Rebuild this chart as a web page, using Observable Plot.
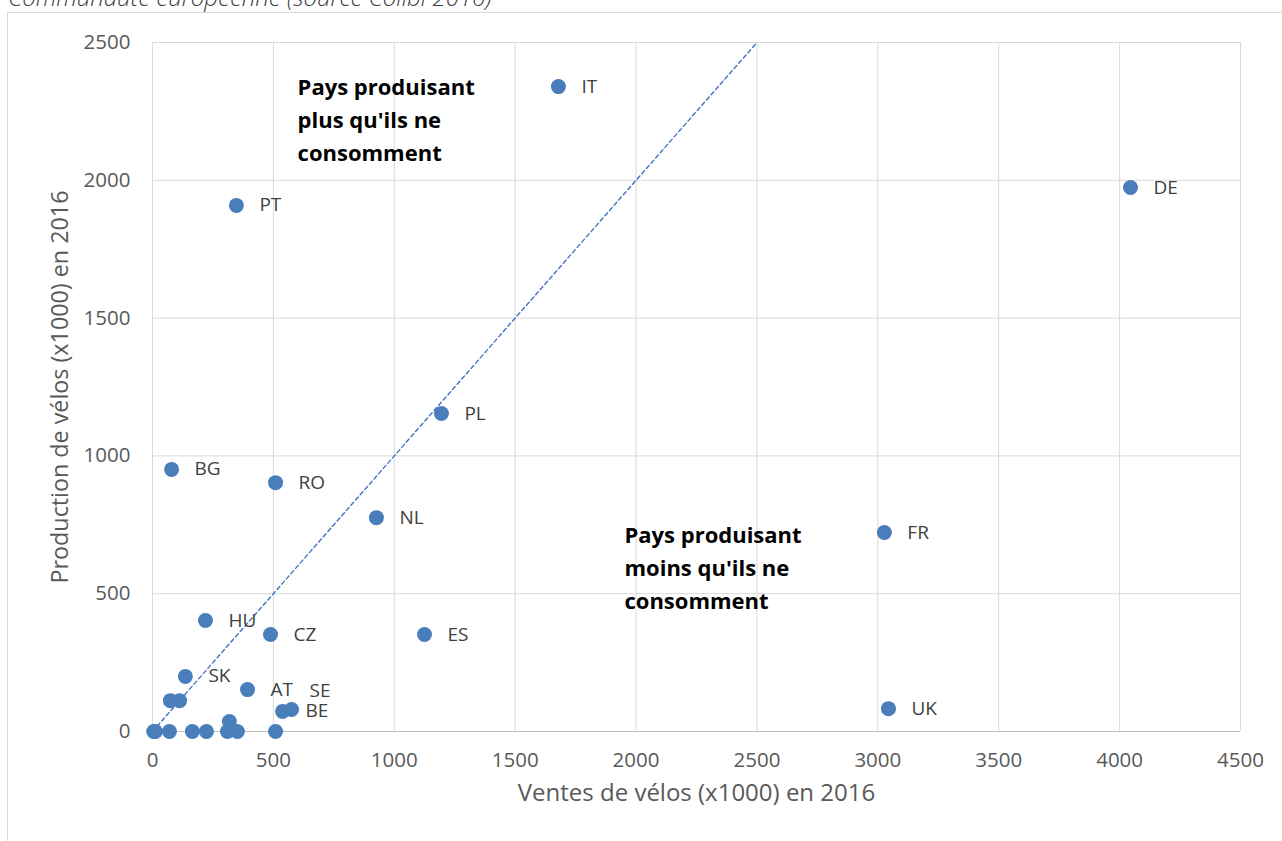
<!DOCTYPE html>
<html>
<head>
<meta charset="utf-8">
<script src="https://cdn.jsdelivr.net/npm/d3@7"></script>
<script src="https://cdn.jsdelivr.net/npm/@observablehq/plot@0.6"></script>
<style>
  html, body { margin: 0; padding: 0; background: #fff; overflow: hidden; }
  body { width: 1282px; height: 841px; position: relative; }
  #title { position: absolute; left: 8px; top: -16px; font-family: "Open Sans", sans-serif; font-style: italic; font-weight: 300; font-size: 24px; line-height: 26px; color: #404040; white-space: nowrap; }
  #frame { position: absolute; left: 7px; top: 12px; width: 1290px; height: 900px; border: 1px solid #d9d9d9; box-sizing: border-box; }
  #chart { position: absolute; left: 0; top: 0; }
</style>
</head>
<body>
<div id="frame"></div>
<div id="title">Communauté européenne (source Colibi 2016)</div>
<div id="chart"></div>
<script>
// Labelled countries: sales (x1000) and production (x1000) in 2016
const countries  = ["IT","DE","PT","PL","BG","RO","NL","FR","HU","CZ","ES","SK","AT","SE","BE","UK"];
const sales      = [1679, 4045, 347, 1195, 79, 509, 926, 3027, 219, 488, 1125, 136, 393, 575, 538, 3044];
const production = [2340, 1974, 1909, 1154, 951, 903, 776, 722, 403, 352, 352, 200, 152, 80, 73, 83];
// Unlabelled countries
const otherSales      = [74, 112, 5, 12, 70, 165, 223, 310, 318, 351, 509];
const otherProduction = [112, 112, 0, 0, 0, 0, 0, 0, 36, 0, 0];
// Ticks
const xTicks = [0, 500, 1000, 1500, 2000, 2500, 3000, 3500, 4000, 4500];
const yTicks = [0, 500, 1000, 1500, 2000, 2500];
// Annotations
const noteX = [600, 1952];
const noteY = [2340, 715];
const noteText = ["Pays produisant\nplus qu'ils ne\nconsomment", "Pays produisant\nmoins qu'ils ne\nconsomment"];
const diagonalX = [0, 2500];
const diagonalY = [0, 2500];

const pts = countries.map((c, i) => ({c, x: sales[i], y: production[i]}));
const others = otherSales.map((x, i) => ({x, y: otherProduction[i]}));
const all = pts.concat(others);
const notes = noteText.map((text, i) => ({text, x: noteX[i], y: noteY[i]}));
const diagonal = diagonalX.map((x, i) => ({x, y: diagonalY[i]}));

const raised = ["SE"]; // label placed above its point to avoid overlapping BE

const fontFam = "'Open Sans', 'Liberation Sans', sans-serif";
const plot = Plot.plot({
  width: 1282,
  height: 841,
  marginLeft: 152,
  marginRight: 42,
  marginTop: 42,
  marginBottom: 110,
  style: {fontFamily: fontFam, background: "transparent", overflow: "visible"},
  x: {domain: [0, 4500], ticks: xTicks, label: null},
  y: {domain: [0, 2500], ticks: yTicks, label: null},
  marks: [
    Plot.ruleX(xTicks, {stroke: "#d9d9d9", strokeWidth: 1}),
    Plot.ruleY(yTicks.filter(d => d > 0), {stroke: "#d9d9d9", strokeWidth: 1}),
    Plot.ruleY([0], {stroke: "#bfbfbf", strokeWidth: 1.2}),
    Plot.axisX({ticks: xTicks, tickSize: 0, tickPadding: 21, fontSize: 20.5, fill: "#595959", tickFormat: d => String(d), label: null}),
    Plot.axisY({ticks: yTicks, tickSize: 0, tickPadding: 22, fontSize: 20.5, fill: "#595959", tickFormat: d => String(d), label: null}),
    Plot.text(["Ventes de vélos (x1000) en 2016"], {frameAnchor: "bottom", dy: 69, fontSize: 24, fill: "#595959"}),
    Plot.text(["Production de vélos (x1000) en 2016"], {frameAnchor: "left", textAnchor: "middle", dx: -92, rotate: -90, fontSize: 23.3, fill: "#595959"}),
    Plot.line(diagonal, {x: "x", y: "y", stroke: "#4472c4", strokeWidth: 1.4, strokeDasharray: "4,3"}),
    Plot.dot(all, {x: "x", y: "y", r: 7.5, fill: "#4a7ebb", stroke: "none"}),
    Plot.text(pts.filter(d => !raised.includes(d.c)), {x: "x", y: "y", text: "c", dx: 23, textAnchor: "start", fontSize: 19, fill: "#404040"}),
    Plot.text(pts.filter(d => raised.includes(d.c)), {x: "x", y: "y", text: "c", dx: 18, dy: -19, textAnchor: "start", fontSize: 19, fill: "#404040"}),
    Plot.text(notes, {x: "x", y: "y", text: "text", textAnchor: "start", lineAnchor: "middle", fontSize: 22, fontWeight: "bold", fill: "#000", lineHeight: 1.5, dy: 31})
  ]
});
document.getElementById("chart").appendChild(plot);
</script>
</body>
</html>
